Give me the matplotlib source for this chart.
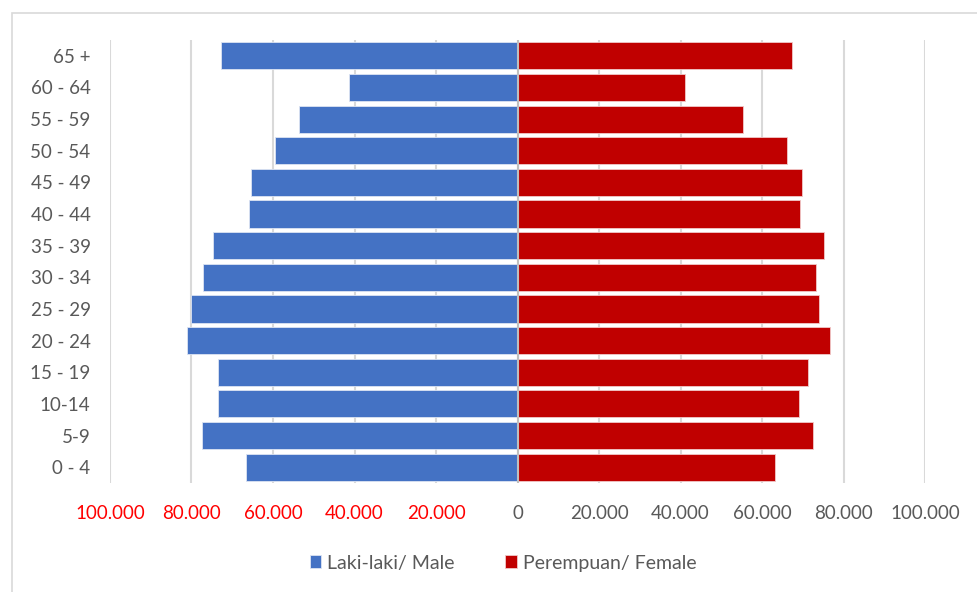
import numpy as np
import matplotlib.pyplot as plt
from matplotlib.patches import Rectangle

plt.rcParams['font.family'] = ['Lato', 'DejaVu Sans']

# Kelompok umur (dari bawah ke atas)
kelompok_umur = ['0 - 4', '5-9', '10-14', '15 - 19', '20 - 24', '25 - 29', '30 - 34',
                 '35 - 39', '40 - 44', '45 - 49', '50 - 54', '55 - 59', '60 - 64', '65 +']
laki_laki = [66600, 77500, 73600, 73600, 81100, 80200, 77200,
             74800, 65800, 65500, 59400, 53500, 41400, 72700]
perempuan = [63100, 72400, 69200, 71300, 76700, 74000, 73300,
             75100, 69400, 69700, 66100, 55300, 41200, 67400]
xticks = [-100000, -80000, -60000, -40000, -20000, 0, 20000, 40000, 60000, 80000, 100000]

fig = plt.figure(figsize=(9.77, 5.92), dpi=100)
ax = fig.add_axes([110 / 977, 1 - 483 / 592, 815 / 977, 443 / 592])

# ramka luar chart
fig.patches.append(Rectangle((12 / 977, -0.05), 1.0, 1 - 13 / 592 + 0.05,
                             transform=fig.transFigure, fill=False,
                             edgecolor='#D9D9D9', linewidth=1.2))

y = np.arange(len(kelompok_umur))
ax.barh(y, -np.array(laki_laki), height=0.86, color='#4472C4',
        edgecolor='#DCE4F2', linewidth=0.6, label='Laki-laki/ Male', zorder=3)
ax.barh(y, perempuan, height=0.86, color='#C00000',
        edgecolor='#F0C8C8', linewidth=0.6, label='Perempuan/ Female', zorder=3)

ax.set_xlim(-100000, 100000)
ax.set_ylim(-0.5, len(kelompok_umur) - 0.5)
ax.set_xticks(xticks)
ax.set_xticklabels([f'{abs(v):,}'.replace(',', '.') for v in xticks])
for lbl, v in zip(ax.get_xticklabels(), xticks):
    lbl.set_color('#FF0000' if v < 0 else '#595959')
ax.set_yticks(y)
ax.set_yticklabels(kelompok_umur, color='#595959')

ax.tick_params(axis='both', length=0, labelsize=13.5)
ax.tick_params(axis='x', pad=16)
ax.tick_params(axis='y', pad=14)
ax.grid(axis='x', color='#D9D9D9', linewidth=1.5, zorder=0)
ax.axvline(0, color='#BFBFBF', linewidth=1.5, zorder=4)
for s in ax.spines.values():
    s.set_visible(False)

fig.legend(loc='center', bbox_to_anchor=(0.515, 1 - 563 / 592), ncol=2, frameon=False,
           fontsize=14, handlelength=0.6, handleheight=0.6, handletextpad=0.3,
           columnspacing=2.6, labelcolor='#595959')

fig.savefig('out.png', dpi=100)
